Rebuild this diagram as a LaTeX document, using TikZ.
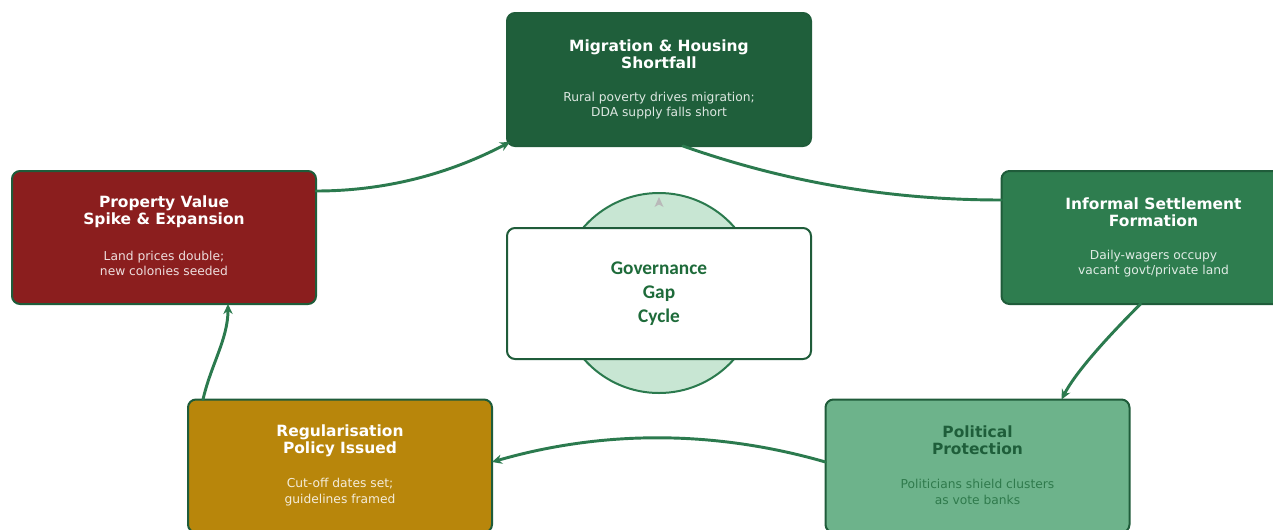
\documentclass[tikz,border=0pt]{standalone}
\usepackage{fontspec}
\setmainfont{DejaVu Sans}
\newfontfamily\carlito{Carlito}
\usetikzlibrary{arrows.meta,calc}
\definecolor{edgegreen}{HTML}{1F5C3A}
\definecolor{flowgreen}{HTML}{2B7A4E}
\definecolor{migfill}{HTML}{1F5F3B}
\definecolor{inffill}{HTML}{2E7D4F}
\definecolor{propfill}{HTML}{8B1E1E}
\definecolor{regfill}{HTML}{B8860B}
\definecolor{polfill}{HTML}{6DB38B}
\definecolor{ringfill}{HTML}{C8E6D3}
\definecolor{coretext}{HTML}{1E6B3A}
\definecolor{poltitle}{HTML}{1E5E3A}
\definecolor{polsub}{HTML}{2F7A4C}
\begin{document}
\begin{tikzpicture}[x=0.75pt,y=-0.75pt,
  stagebox/.style={draw=edgegreen, line width=1.5pt, rounded corners=6pt,
    minimum width=228pt, minimum height=99.75pt, inner sep=0pt, outer sep=0pt},
  titletext/.style={font=\bfseries\fontsize{11.6}{12.9}\selectfont, align=center, text=white, inner sep=0pt},
  subtext/.style={font=\fontsize{9.2}{11.6}\selectfont, align=center, text=white, text opacity=0.85, inner sep=0pt},
  flow/.style={draw=flowgreen, line width=2.2pt, line cap=round},
  flowtip/.style={flow, -{Stealth[length=7.5pt,width=7pt]}}
]
\useasboundingbox (0,0) rectangle (1273,529);
\clip (0,0) rectangle (1273,529);
\fill[white] (0,0) rectangle (1273,529);

% central ring and label box
\node[circle, fill=ringfill, draw=flowgreen, line width=1.5pt, minimum size=150pt, inner sep=0pt] (ring) at (659,293) {};
\fill[gray!55] (659,197) -- (663.5,207) -- (659,204.5) -- (654.5,207) -- cycle;
\node[draw=edgegreen, line width=1.5pt, fill=white, rounded corners=6pt,
  minimum width=228pt, minimum height=98.25pt, inner sep=0pt, outer sep=0pt] (core) at (659,293.5) {};
\node[font=\carlito\bfseries\fontsize{14.5}{18}\selectfont, text=coretext, align=center] (coreT) at (core.center) {Governance\\Gap\\Cycle};

% stage boxes
\node[stagebox, fill=migfill]  (mig)  at (659,79.5)   {};
\node[stagebox, fill=inffill]  (inf)  at (1153.5,237.5) {};
\node[stagebox, fill=propfill] (prop) at (164,237.5)  {};
\node[stagebox, fill=regfill]  (reg)  at (340,466)    {};
\node[stagebox, fill=polfill]  (pol)  at (977.5,466)  {};

% stage texts
\node[titletext] (migT)  at ($(mig.north)+(0,41)$)  {Migration \& Housing\\Shortfall};
\node[subtext]   (migS)  at ($(mig.north)+(0,92.5)$)    {Rural poverty drives migration;\\DDA supply falls short};
\node[titletext] (infT)  at ($(inf.north)+(0,41)$)  {Informal Settlement\\Formation};
\node[subtext]   (infS)  at ($(inf.north)+(0,92.5)$)    {Daily-wagers occupy\\vacant govt/private land};
\node[titletext] (propT) at ($(prop.north)+(0,41)$) {Property Value\\Spike \& Expansion};
\node[subtext]   (propS) at ($(prop.north)+(0,92.5)$)   {Land prices double;\\new colonies seeded};
\node[titletext] (regT)  at ($(reg.north)+(0,41)$)  {Regularisation\\Policy Issued};
\node[subtext]   (regS)  at ($(reg.north)+(0,92.5)$)    {Cut-off dates set;\\guidelines framed};
\node[titletext, text=poltitle] (polT) at ($(pol.north)+(0,41)$) {Political\\Protection};
\node[subtext, text=polsub, text opacity=1] (polS) at ($(pol.north)+(0,92.5)$) {Politicians shield clusters\\as vote banks};

% cycle connectors
\draw[flowtip] ($(prop.north east)+(0,20)$) .. controls +(65,0) and +(-65,34) .. ($(mig.south west)+(3,-4)$);
\draw[flow] ($(mig.south)+(24,0)$) .. controls +(105,37) and +(-109,0) .. ($(inf.north west)+(0,29)$);
\draw[flowtip] ($(inf.south west)+(139,0)$) .. controls +(-39,39) and +(13,-25) .. ($(pol.north west)+(236,0)$);
\draw[flowtip] ($(pol.west)+(0,-4)$) .. controls +(-111,-32) and +(111,-32) .. ($(reg.east)+(0,-4)$);
\draw[flowtip] ($(reg.north west)+(15,0)$) .. controls +(8,-35) and +(0,35) .. ($(prop.south west)+(216,0)$);
\end{tikzpicture}
\end{document}
